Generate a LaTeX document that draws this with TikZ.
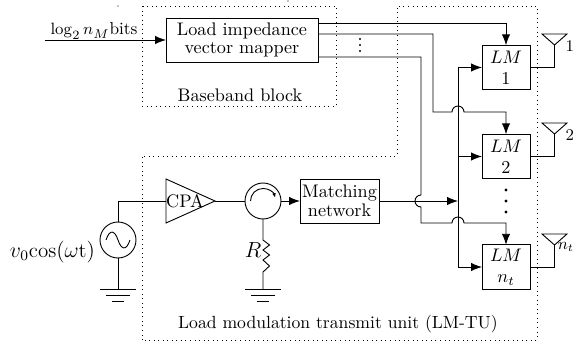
\documentclass[tikz,border=0pt]{standalone}
\usetikzlibrary{arrows.meta}
\tikzset{
  every node/.style={inner sep=0pt,outer sep=0pt,font=\fontsize{10}{11.5}\selectfont,align=center},
  wire/.style={line width=0.5pt},
  arr/.style={wire,-{Latex[length=6pt,width=4.6pt]}},
  blockbox/.style={draw,line width=0.5pt},
  lmbox/.style={blockbox,minimum width=26.4pt,minimum height=24.5pt},
  zone/.style={line width=0.5pt,dash pattern=on 0.5pt off 2pt},
  blob/.style={circle,fill=black,minimum size=1.7pt},
  ring/.style={circle,draw,line width=0.5pt,minimum size=19.8pt},
  big/.style={font=\fontsize{11.5}{13}\selectfont},
  tag/.style={font=\fontsize{9}{10}\selectfont},
}
\begin{document}
\begin{tikzpicture}[x=0.55pt,y=-0.55pt]
\useasboundingbox (0,0) rectangle (574,345);
% zones
\draw[zone] (142,6) rectangle (336,106);
\draw[zone] (142,340) -- (142,156) -- (397,156) -- (397,6) -- (537,6) -- (537,340) -- cycle;
\fill (118,6) circle (0.35pt) (288,1) circle (0.35pt);
% blocks
\node[blockbox,minimum width=83.6pt,minimum height=24.2pt] (map) at (242,40) {Load impedance\\[-1.2pt]vector mapper};
\node (bb) at (240,95) {Baseband block};
\node[font=\fontsize{9.7}{11}\selectfont] (lmtu) at (338,324) {Load modulation transmit unit (LM-TU)};
\node[lmbox] (lm1) at (506,67.5) {$LM$\\1};
\node[lmbox] (lm2) at (506,156.5) {$LM$\\2};
\node[lmbox] (lm3) at (506,267) {$LM$\\$n_t$};
\node[blockbox,minimum width=43.5pt,minimum height=24.2pt] (match) at (339.5,201) {Matching\\[-1.2pt]network};
\node[ring] (src) at (118,240) {};
\node[ring] (circ) at (263,201) {};
% input
\coordinate (in) at (45,40);
\draw[arr] (in) -- (map.west);
\node[anchor=base,font=\fontsize{9.5}{11}\selectfont] (inl) at (94,35) {$\log_2 n_M$bits};
% mapper outputs
\coordinate (o1) at (318,23);
\coordinate (o2) at (318,34);
\coordinate (o3) at (318,57);
\draw[arr] (o1) -| (lm1.north);
\draw[arr] (o2) -- (433,34) -- (433,112) -- (452,112) arc[start angle=180,delta angle=-180,radius=3.3pt] -- (506,112) -- (lm2.north);
\draw[arr] (o3) -- (421,57) -- (421,195) arc[start angle=90,delta angle=180,radius=3.3pt] -- (421,223) -- (452,223) arc[start angle=180,delta angle=-180,radius=3.3pt] -- (506,223) -- (lm3.north);
\node[blob,minimum size=1.3pt] (v1) at (360,39) {};
\node[blob,minimum size=1.3pt] (v2) at (360,45) {};
\node[blob,minimum size=1.3pt] (v3) at (360,51) {};
% bus
\coordinate (bus) at (458,201);
\draw[arr] (match.east) -- (bus);
\draw[arr] (bus) |- (lm1.west);
\draw[arr] (bus) |- (lm2.west);
\draw[arr] (bus) |- (lm3.west);
\node[blob] (d1) at (506,190) {};
\node[blob] (d2) at (506,201) {};
\node[blob] (d3) at (506,212) {};
% antennas
\coordinate (a1) at (554.5,45);
\coordinate (a2) at (554.5,134);
\coordinate (a3) at (554.5,245);
\draw[wire] (lm1.east) -| (a1);
\draw[wire] (lm2.east) -| (a2);
\draw[wire] (lm3.east) -| (a3);
\draw[wire] (a1) -- (542,34) -- (567,34) -- cycle;
\draw[wire] (a2) -- (542,123) -- (567,123) -- cycle;
\draw[wire] (a3) -- (542,234) -- (567,234) -- cycle;
\node[anchor=east,tag] (l1) at (574,46) {1};
\node[anchor=east,tag] (l2) at (574,135) {2};
\node[anchor=east,tag] (l3) at (574,247) {$n_t$};
% source
\node[anchor=east,big] (srcl) at (95,252) {$v_0$cos$(\omega$t$)$};
\draw[wire] (106,240) .. controls (110,228) and (115,231) .. (118,240) .. controls (121,249) and (126,252) .. (130,240);
\coordinate (g1) at (118,289);
\coordinate (cpaw) at (166,201);
\draw[wire] (src.south) -- (g1);
\draw[wire] (src.north) |- (cpaw);
\draw[wire] (100,289) -- (136,289) (106,295) -- (130,295) (112,301) -- (124,301);
% CPA
\coordinate (cpae) at (215,201);
\draw[wire] (166,179) -- (cpae) -- (166,223) -- cycle;
\node (cpa) at (185,201) {CPA};
\draw[wire] (cpae) -- (circ.west);
\draw[arr] (circ.east) -- (match.west);
\draw[-{Latex[length=2.5pt,width=2pt]},line width=0.5pt] (250.5,201) arc[start angle=180,delta angle=-165,radius=6.9pt];
% resistor
\coordinate (g2) at (263,289);
\draw[wire] (circ.south) -- (263,240) -- (269.5,245) -- (263,250) -- (269.5,255) -- (263,260) -- (269.5,266) -- (263,272) -- (g2);
\draw[wire] (245,289) -- (281,289) (251,295) -- (275,295) (257,301) -- (269,301);
\node[big] (rl) at (253,250) {$R$};
\end{tikzpicture}
\end{document}
